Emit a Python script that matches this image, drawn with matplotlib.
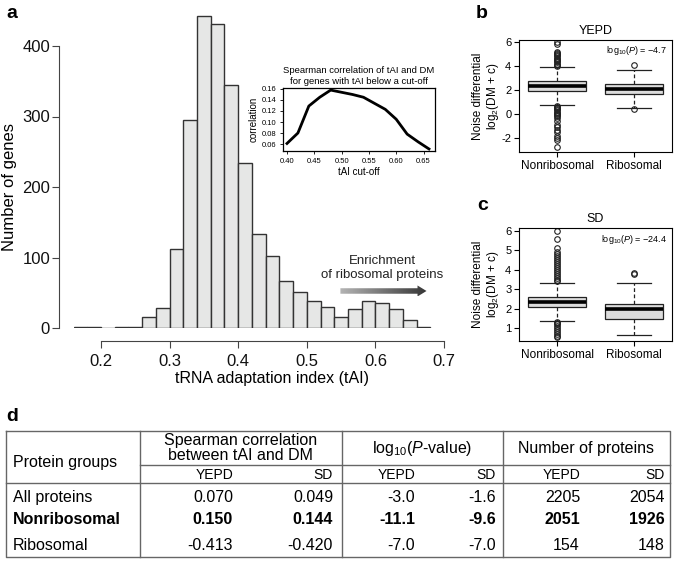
import matplotlib.pyplot as plt
import numpy as np
from matplotlib.patches import FancyArrow
from matplotlib.colors import LinearSegmentedColormap

plt.rcParams['font.family'] = ['Liberation Sans', 'DejaVu Sans']
plt.rcParams['mathtext.fontset'] = 'custom'
plt.rcParams['mathtext.rm'] = 'Liberation Sans'
plt.rcParams['mathtext.it'] = 'Liberation Sans:italic'
plt.rcParams['mathtext.bf'] = 'Liberation Sans:bold'
plt.rcParams['axes.unicode_minus'] = False

# ---- panel a: histogram of tAI ----
bin_left = [0.16, 0.18, 0.20, 0.22, 0.24, 0.26, 0.28, 0.30, 0.32, 0.34, 0.36, 0.38, 0.40,
            0.42, 0.44, 0.46, 0.48, 0.50, 0.52, 0.54, 0.56, 0.58, 0.60, 0.62, 0.64, 0.66]
gene_counts = [1, 1, 0, 1, 2, 16, 28, 112, 295, 443, 431, 344, 234,
               134, 102, 67, 51, 38, 30, 16, 27, 38, 36, 27, 12, 1]
hist_xticks = [0.2, 0.3, 0.4, 0.5, 0.6, 0.7]
hist_yticks = [0, 100, 200, 300, 400]

# inset: correlation vs cut-off
cutoffs = [0.40, 0.42, 0.44, 0.46, 0.48, 0.50, 0.52, 0.54, 0.56, 0.58, 0.60, 0.62, 0.64, 0.66]
cutoff_corr = [0.061, 0.080, 0.129, 0.145, 0.158, 0.154, 0.150, 0.145, 0.134, 0.123, 0.105, 0.078, 0.064, 0.051]
inset_xticks = [0.40, 0.45, 0.50, 0.55, 0.60, 0.65]
inset_yticks = [0.06, 0.08, 0.10, 0.12, 0.14, 0.16]

# ---- panels b, c: boxplots of noise differential ----
box_labels = ['Nonribosomal', 'Ribosomal']
yepd_stats = [
    dict(q1=1.92, med=2.33, q3=2.75, whislo=0.75, whishi=3.95,
         fliers=[4.0, 4.1, 4.2, 4.3, 4.4, 4.5, 4.6, 4.7, 4.8, 4.9, 5.0, 5.1, 5.2, 5.8, 6.0,
                 0.7, 0.6, 0.5, 0.4, 0.3, 0.2, 0.1, 0.0, -0.1, -0.2, -0.3, -0.6, -0.9,
                 -1.1, -1.3, -1.5, -1.8, -2.0, -2.2, -2.75]),
    dict(q1=1.64, med=2.06, q3=2.47, whislo=0.47, whishi=3.67, fliers=[4.1, 0.4]),
]
sd_stats = [
    dict(q1=2.10, med=2.36, q3=2.61, whislo=1.38, whishi=3.33,
         fliers=[3.4, 3.5, 3.6, 3.7, 3.8, 3.9, 4.0, 4.1, 4.2, 4.3, 4.4, 4.5, 4.6, 4.7, 4.8,
                 4.9, 5.1, 5.6, 6.0, 1.3, 1.25, 1.2, 1.1, 1.0, 0.9, 0.8, 0.7, 0.6, 0.55]),
    dict(q1=1.46, med=1.99, q3=2.24, whislo=0.65, whishi=3.33, fliers=[3.8, 3.85]),
]
yepd_logp = '\u22124.7'
sd_logp = '\u221224.4'

# ---- panel d: table ----
groups = ['All proteins', 'Nonribosomal', 'Ribosomal']
corr_yepd = [0.070, 0.150, -0.413]
corr_sd = [0.049, 0.144, -0.420]
logp_yepd = [-3.0, -11.1, -7.0]
logp_sd = [-1.6, -9.6, -7.0]
n_yepd = [2205, 2051, 154]
n_sd = [2054, 1926, 148]

W, H = 675, 561
fig = plt.figure(figsize=(W / 100, H / 100), dpi=100)


def px_axes(l, t, r, b):
    return fig.add_axes([l / W, 1 - b / H, (r - l) / W, (b - t) / H])


edge = '#333333'

# histogram
ax = px_axes(73.5, 10.75, 444, 328)
ax.bar(bin_left, gene_counts, width=0.02, align='edge', color='#e6e7e6',
       edgecolor=edge, linewidth=1.0)
for s in ['top', 'right']:
    ax.spines[s].set_visible(False)
ax.spines['left'].set_position(('outward', 10.4))
ax.spines['left'].set_bounds(0, 400)
ax.spines['bottom'].set_position(('outward', 9.4))
ax.spines['bottom'].set_bounds(0.2, 0.7)
for s in ['left', 'bottom']:
    ax.spines[s].set_color('#444444')
ax.set_xticks(hist_xticks)
ax.set_yticks(hist_yticks)
ax.xaxis.set_major_formatter('{x:.1f}')
ax.tick_params(axis='both', labelsize=12, length=5, color='#444444', labelcolor='#111111')
ax.tick_params(axis='x', pad=4)
ax.tick_params(axis='y', pad=1.5)
ax.set_xlabel('tRNA adaptation index (tAI)', fontsize=11.5)
ax.set_ylabel('Number of genes', fontsize=12)
ax.xaxis.set_label_coords(0.5358, -0.1355)
ax.yaxis.set_label_coords(-0.1525, 0.444)

# gradient arrow
arrow = FancyArrow(0.549, 52.5, 0.1255, 0, width=7.8, head_width=15.6, head_length=0.0131,
                   length_includes_head=True, facecolor='none', edgecolor='none')
ax.add_patch(arrow)
grad_cmap = LinearSegmentedColormap.from_list('g', ['#b4b4b4', '#363636'])
im = ax.imshow(np.linspace(0, 1, 256)[None, :], extent=[0.549, 0.6745, 44.7, 60.3],
               cmap=grad_cmap, aspect='auto', interpolation='bilinear', zorder=3)
im.set_clip_path(arrow)
ax.text(0.6105, 85, 'Enrichment\nof ribosomal proteins', ha='center', va='center',
        fontsize=9.5, linespacing=1.25, color='#222222')
ax.set_xlim(0.16, 0.70)
ax.set_ylim(0, 450)

# inset
ins = px_axes(283, 88, 435, 151)
ins.plot(cutoffs, cutoff_corr, color='black', lw=2)
ins.set_xlim(0.3927, 0.671)
ins.set_ylim(0.0473, 0.1618)
ins.set_xticks(inset_xticks)
ins.set_yticks(inset_yticks)
ins.xaxis.set_major_formatter('{x:.2f}')
ins.yaxis.set_major_formatter('{x:.2f}')
ins.tick_params(labelsize=5.5, length=2.5, width=0.6, pad=2.5)
for s in ins.spines.values():
    s.set_linewidth(0.9)
ins.set_title('Spearman correlation of tAI and DM\nfor genes with tAI below a cut-off',
              fontsize=6.8, pad=3, linespacing=1.2)
ins.set_xlabel('tAI cut-off', fontsize=7, labelpad=1.5)
ins.set_ylabel('correlation', fontsize=7, labelpad=2)


def draw_box(axb, stats, title, logp, yticks, ylim):
    for st, lab in zip(stats, box_labels):
        st['label'] = lab
    axb.bxp(stats, positions=[1, 2], widths=0.76, patch_artist=True, capwidths=0.44,
            boxprops=dict(facecolor='#dcdcdc', edgecolor='#222222', linewidth=0.9),
            medianprops=dict(color='black', linewidth=2.6),
            whiskerprops=dict(color='#222222', linewidth=0.9, linestyle=(0, (3, 2))),
            capprops=dict(color='#222222', linewidth=0.9),
            flierprops=dict(marker='o', markerfacecolor='none', markeredgecolor='#222222',
                            markersize=4, markeredgewidth=0.8))
    axb.set_xlim(0.5, 2.5)
    axb.set_ylim(*ylim)
    axb.set_yticks(yticks)
    axb.tick_params(axis='y', labelsize=8, length=3.5, pad=2)
    axb.tick_params(axis='x', labelsize=8.5, length=3.5, pad=2)
    axb.set_title(title, fontsize=9, pad=4)
    axb.text(0.97, 0.96, r'log$_{10}$($\it{P}$) = ' + logp, transform=axb.transAxes,
             ha='right', va='top', fontsize=6.5)
    axb.set_ylabel('Noise differential\nlog$_2$(DM + c)', fontsize=8.5, linespacing=1.1)
    axb.yaxis.set_label_coords(-0.12, 0.5)


axb = px_axes(519, 40, 672, 152)
draw_box(axb, yepd_stats, 'YEPD', yepd_logp, [-2, 0, 2, 4, 6], (-3.17, 6.17))
axc = px_axes(519, 228, 672, 341)
draw_box(axc, sd_stats, 'SD', sd_logp, [1, 2, 3, 4, 5, 6], (0.33, 6.155))

# panel letters
for lab, x, y in [('a', 6, 18), ('b', 476, 18), ('c', 477, 210), ('d', 6, 421)]:
    fig.text(x / W, 1 - y / H, lab, fontsize=14, fontweight='bold', va='baseline', ha='left')

# table
tab = fig.add_axes([0, 0, 1, 1])
tab.set_xlim(0, W)
tab.set_ylim(H, 0)
tab.axis('off')
lc = '#666666'
tab.plot([6, 670, 670, 6, 6], [431, 431, 557, 557, 431], color=lc, lw=1)
for xv in [140, 342, 503]:
    tab.plot([xv, xv], [431, 557], color=lc, lw=1)
tab.plot([140, 670], [465, 465], color=lc, lw=1)
tab.plot([6, 670], [483, 483], color=lc, lw=1)

fs = 11.5
tab.text(13, 462, 'Protein groups', fontsize=fs, va='center', ha='left')
tab.text(241, 448, 'Spearman correlation\nbetween tAI and DM', fontsize=fs, va='center',
         ha='center', linespacing=1.0)
tab.text(422, 448, r'log$_{10}$($\it{P}$-value)', fontsize=fs, va='center', ha='center')
tab.text(586, 448, 'Number of proteins', fontsize=fs, va='center', ha='center')
col_right = [233, 333, 415, 496, 580, 665]
for xr, sub in zip(col_right, ['YEPD', 'SD'] * 3):
    tab.text(xr, 475, sub, fontsize=10, va='center', ha='right')
row_y = [497, 520, 545]
for i, g in enumerate(groups):
    fw = 'bold' if g == 'Nonribosomal' else 'normal'
    vals = [f'{corr_yepd[i]:.3f}', f'{corr_sd[i]:.3f}', f'{logp_yepd[i]:.1f}',
            f'{logp_sd[i]:.1f}', f'{n_yepd[i]}', f'{n_sd[i]}']
    tab.text(13, row_y[i], g, fontsize=fs, va='center', ha='left', fontweight=fw)
    for xr, v in zip(col_right, vals):
        tab.text(xr, row_y[i], v, fontsize=fs, va='center', ha='right', fontweight=fw)

fig.savefig('out.png', dpi=100)
